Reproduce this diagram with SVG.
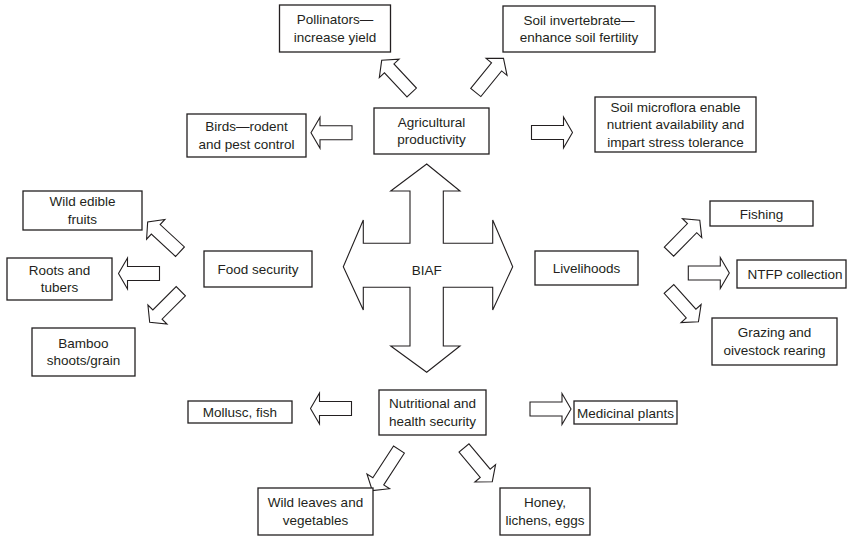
<svg xmlns="http://www.w3.org/2000/svg" xmlns:xlink="http://www.w3.org/1999/xlink" width="847" height="536" viewBox="0 0 847 536">
<style>
  .box { fill: #ffffff; stroke: #231f20; stroke-width: 1.3; }
  .arr { fill: #ffffff; stroke: #231f20; stroke-width: 1.1; stroke-linejoin: miter; }
  text { font-family: "Liberation Sans", Arial, sans-serif; font-size: 13.5px; fill: #231f20; text-anchor: middle; }
</style>
<defs>
  <polygon id="arrowH" class="arr" points="0,-7 32,-7 32,-15.5 41,0 32,15.5 32,7 0,7"/>
  <polygon id="arrowD" class="arr" points="0,-6.5 33,-6.5 33,-13.5 44,0 33,13.5 33,6.5 0,6.5"/>
  <polygon id="arrowDL" class="arr" points="0,-6.5 38,-6.5 38,-13.5 49,0 38,13.5 38,6.5 0,6.5"/>
</defs>
<rect width="847" height="536" fill="#ffffff"/>

<g id="connectors">
  <use href="#arrowD" transform="translate(411.7,92.5) rotate(227)"/>
  <use href="#arrowD" transform="translate(475.8,92.5) rotate(-51)"/>
  <use href="#arrowH" transform="translate(352,132.8) rotate(180)"/>
  <use href="#arrowH" transform="translate(531.5,132.5)"/>
  <use href="#arrowD" transform="translate(180,251.7) rotate(222.7)"/>
  <use href="#arrowH" transform="translate(159.5,273.5) rotate(180)"/>
  <use href="#arrowD" transform="translate(180.8,291.2) rotate(135)"/>
  <use href="#arrowD" transform="translate(669,251.7) rotate(-45.6)"/>
  <use href="#arrowH" transform="translate(688.3,273)"/>
  <use href="#arrowD" transform="translate(669,289) rotate(48)"/>
  <use href="#arrowH" transform="translate(351.5,408.5) rotate(180)"/>
  <use href="#arrowH" transform="translate(530,409)"/>
  <use href="#arrowDL" transform="translate(399,449.5) rotate(123)"/>
  <use href="#arrowD" transform="translate(464,448) rotate(50)"/>
</g>

<g id="biaf">
  <polygon class="arr" points="426.7,164 460,191 443.3,191 443.3,243.3 492.7,243.3 492.7,220 512.7,266.7 492.7,310 492.7,287.3 443.3,287.3 443.3,346 460,346 426.7,372.3 390.7,346 410,346 410,287.3 363.3,287.3 363.3,310 343.3,266.7 363.3,220 363.3,243.3 410,243.3 410,191 390.7,191"/>
  <text x="426.7" y="275">BIAF</text>
</g>

<g id="pollinators">
  <rect class="box" x="279.5" y="5" width="111" height="47"/>
  <text x="335" y="24">Pollinators—</text>
  <text x="335" y="41.7">increase yield</text>
</g>
<g id="soil-invertebrate">
  <rect class="box" x="503" y="6" width="152" height="46"/>
  <text x="579" y="24.5">Soil invertebrate—</text>
  <text x="579" y="42.2">enhance soil fertility</text>
</g>
<g id="birds">
  <rect class="box" x="187" y="114" width="119" height="43"/>
  <text x="246.5" y="131">Birds—rodent</text>
  <text x="246.5" y="148.7">and pest control</text>
</g>
<g id="agricultural">
  <rect class="box" x="374" y="108" width="115" height="46"/>
  <text x="431.5" y="126.5">Agricultural</text>
  <text x="431.5" y="144.2">productivity</text>
</g>
<g id="soil-microflora">
  <rect class="box" x="595" y="97" width="161" height="55"/>
  <text x="675.5" y="111.5">Soil microflora enable</text>
  <text x="675.5" y="129">nutrient availability and</text>
  <text x="675.5" y="146.5">impart stress tolerance</text>
</g>
<g id="wild-edible-fruits">
  <rect class="box" x="23" y="191" width="119" height="39"/>
  <text x="82.5" y="206">Wild edible</text>
  <text x="82.5" y="223.7">fruits</text>
</g>
<g id="roots-tubers">
  <rect class="box" x="7" y="258" width="105" height="42"/>
  <text x="59.5" y="274.5">Roots and</text>
  <text x="59.5" y="292.2">tubers</text>
</g>
<g id="bamboo">
  <rect class="box" x="32" y="328" width="103" height="48"/>
  <text x="83.5" y="347.5">Bamboo</text>
  <text x="83.5" y="365.2">shoots/grain</text>
</g>
<g id="food-security">
  <rect class="box" x="204" y="251" width="108" height="36"/>
  <text x="258" y="274">Food security</text>
</g>
<g id="livelihoods">
  <rect class="box" x="535" y="251" width="103" height="34"/>
  <text x="586.5" y="273">Livelihoods</text>
</g>
<g id="fishing">
  <rect class="box" x="710" y="201" width="103" height="25"/>
  <text x="761.5" y="218.5">Fishing</text>
</g>
<g id="ntfp">
  <rect class="box" x="737" y="260" width="109" height="28"/>
  <text x="795" y="279">NTFP collection</text>
</g>
<g id="grazing">
  <rect class="box" x="712" y="318" width="125" height="47"/>
  <text x="774.5" y="337">Grazing and</text>
  <text x="774.5" y="354.7">oivestock rearing</text>
</g>
<g id="mollusc">
  <rect class="box" x="188" y="401" width="104" height="22"/>
  <text x="240" y="417">Mollusc, fish</text>
</g>
<g id="nutritional">
  <rect class="box" x="379" y="390" width="107" height="45"/>
  <text x="432.5" y="408">Nutritional and</text>
  <text x="432.5" y="425.7">health security</text>
</g>
<g id="medicinal">
  <rect class="box" x="574" y="401" width="103" height="23"/>
  <text x="625.5" y="417.5">Medicinal plants</text>
</g>
<g id="wild-leaves">
  <rect class="box" x="258" y="488" width="115" height="47"/>
  <text x="315.5" y="507">Wild leaves and</text>
  <text x="315.5" y="524.7">vegetables</text>
</g>
<g id="honey">
  <rect class="box" x="500" y="488" width="90" height="47"/>
  <text x="545" y="507">Honey,</text>
  <text x="545" y="524.7">lichens, eggs</text>
</g>
</svg>
